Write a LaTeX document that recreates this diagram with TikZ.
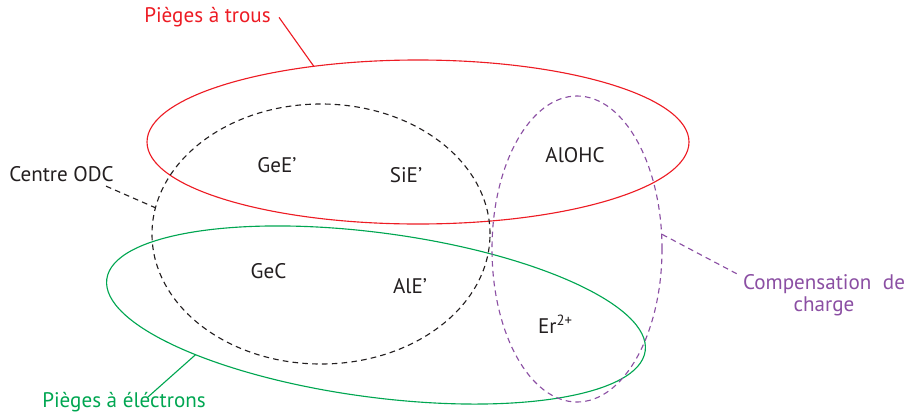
\documentclass[tikz,border=0pt]{standalone}
\usepackage{fontspec}
\setmainfont{PT Sans}
\usetikzlibrary{shapes.geometric, positioning, calc}
\definecolor{ptRed}{HTML}{ED1C24}
\definecolor{ptGreen}{HTML}{00A651}
\definecolor{ptViolet}{HTML}{8B4FA3}
\definecolor{ptInk}{HTML}{231F20}

\begin{document}
\begin{tikzpicture}[
  zone/.style={ellipse, draw, line width=0.8pt, inner sep=0pt, outer sep=0pt},
  pointille/.style={line width=0.8pt, dash pattern=on 4pt off 3pt},
  txt/.style={font=\fontsize{15}{16}\selectfont, text=ptInk, inner sep=0pt, anchor=base}
]
  \useasboundingbox (0,0) rectangle (22.7,-10.475);
  % ensembles
  \node[zone, ptRed, minimum width=13.55cm, minimum height=4.1cm] (trous) at (10.45,-3.55) {};
  \node[zone, ptGreen, minimum width=13.58cm, minimum height=4.11cm, rotate=-7.6] (elec) at (9.4,-7.875) {};
  \node[zone, pointille, ptInk, minimum width=8.45cm, minimum height=6.5cm] (odc) at (8.025,-5.85) {};
  \node[zone, pointille, ptViolet, minimum width=4.25cm, minimum height=7.65cm] (comp) at (14.425,-6.225) {};
  % defauts
  \foreach \n/\t/\x/\y in {gee/GeE’/6.925/-4.3, sie/SiE’/10.15/-4.55, alohc/AlOHC/14.375/-4.05,
                           gec/GeC/6.7125/-6.95, ale/AlE’/10.25/-7.325, er/Er\textsuperscript{2+}/13.8875/-8.325}
    {\node[txt] (\n) at (\x,\y) {\t};}
  % etiquettes
  \node[txt, text=ptRed] (lblTrous) at (5.1875,-0.5675) {Pièges à trous};
  \node[txt] (lblOdc) at (1.5375,-4.54) {Centre ODC};
  \node[txt, text=ptGreen] (lblElec) at (3.1,-10.19) {Pièges à éléctrons};
  \node[txt, text=ptViolet, anchor=center, align=center] (lblComp) at (20.6,-7.375)
    {Compensation\hspace{0.55em}de\\charge};
  % liens
  \draw[ptRed, line width=0.8pt] ([xshift=2mm]lblTrous.east) -- (trous.144.5);
  \draw[ptInk, pointille] ([xshift=-2mm,yshift=-1mm]lblOdc.south east) -- (odc.171.9);
  \draw[ptGreen, line width=0.8pt] ([xshift=6mm,yshift=-1.2mm]lblElec.north) -- (elec.200);
  \draw[ptViolet, pointille] ([xshift=-1.5mm]lblComp.north west) -- (comp.10);
\end{tikzpicture}
\end{document}
